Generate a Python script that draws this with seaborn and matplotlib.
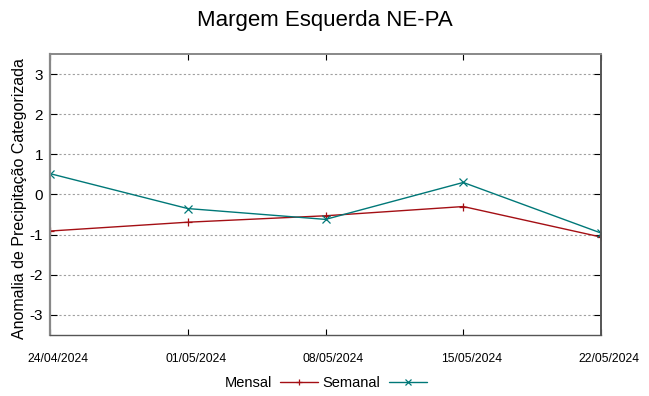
import matplotlib
matplotlib.use("Agg")
import matplotlib.pyplot as plt
import matplotlib.transforms as mtransforms
import pandas as pd
import seaborn as sns

dates = ["24/04/2024", "01/05/2024", "08/05/2024", "15/05/2024", "22/05/2024"]
mensal = [-0.91, -0.69, -0.53, -0.30, -1.06]
semanal = [0.52, -0.35, -0.62, 0.30, -0.96]

sns.set_style("white")
plt.rcParams['font.family'] = ['Liberation Sans', 'DejaVu Sans']
plt.rcParams['axes.unicode_minus'] = False
plt.rcParams['text.color'] = 'black'
plt.rcParams['xtick.color'] = 'black'
plt.rcParams['ytick.color'] = 'black'
plt.rcParams['axes.labelcolor'] = 'black'

df = pd.DataFrame({
    "x": list(range(len(dates))) * 2,
    "valor": mensal + semanal,
    "serie": ["Mensal"] * len(dates) + ["Semanal"] * len(dates),
})

fig = plt.figure(figsize=(6.49, 3.96), dpi=100)
ax = fig.add_axes([50 / 649, 1 - 335 / 396, 551 / 649, 281 / 396])

cores = {"Mensal": "#a40f14", "Semanal": "#007878"}
marcadores = {"Mensal": "+", "Semanal": "x"}
for nome in ["Mensal", "Semanal"]:
    sub = df[df["serie"] == nome]
    sns.lineplot(data=sub, x="x", y="valor", ax=ax, color=cores[nome],
                 marker=marcadores[nome], markersize=5.5, markeredgewidth=0.9,
                 markeredgecolor=cores[nome], linewidth=1.0, label=nome)

ax.set_xlim(0, 4)
ax.set_ylim(-3.5, 3.5)
ax.set_yticks([-3, -2, -1, 0, 1, 2, 3])
ax.set_xticks(range(len(dates)))
ax.set_xticklabels(dates, fontsize=8.7)
ax.tick_params(axis='y', labelsize=11, direction='in', length=5, right=True, left=True, pad=5)
ax.tick_params(axis='x', direction='in', length=4, pad=13, bottom=True, top=True)
# rotulos de data deslocados um pouco para a direita
desloc = mtransforms.ScaledTranslation(8 / 100, 0, fig.dpi_scale_trans)
for lbl in ax.get_xticklabels():
    lbl.set_transform(lbl.get_transform() + desloc)
ax.grid(axis='y', color='#a0a0a0', linestyle=(0, (2, 2)), linewidth=0.8)
for s in ax.spines.values():
    s.set_color('#555555')
    s.set_linewidth(1.0)
ax.spines['left'].set_color('#888888')
ax.spines['left'].set_linewidth(1.6)
ax.spines['top'].set_color('#888888')
ax.spines['top'].set_linewidth(1.4)
ax.spines['right'].set_linewidth(1.4)

ax.set_xlabel("")
ax.set_ylabel("Anomalia de Precipitação Categorizada", fontsize=11.5, labelpad=0)
ax.yaxis.set_label_coords(-23 / 551, 0.485)
fig.suptitle("Margem Esquerda NE-PA", fontsize=16, y=0.975)

leg = ax.legend(loc='upper center', bbox_to_anchor=(0.5, -0.125), ncol=2, frameon=False,
                fontsize=10.5, markerfirst=False, handlelength=2.6, columnspacing=0.35,
                handletextpad=0.55, borderaxespad=0, markerscale=0.8)

fig.savefig("out.png", dpi=100)
